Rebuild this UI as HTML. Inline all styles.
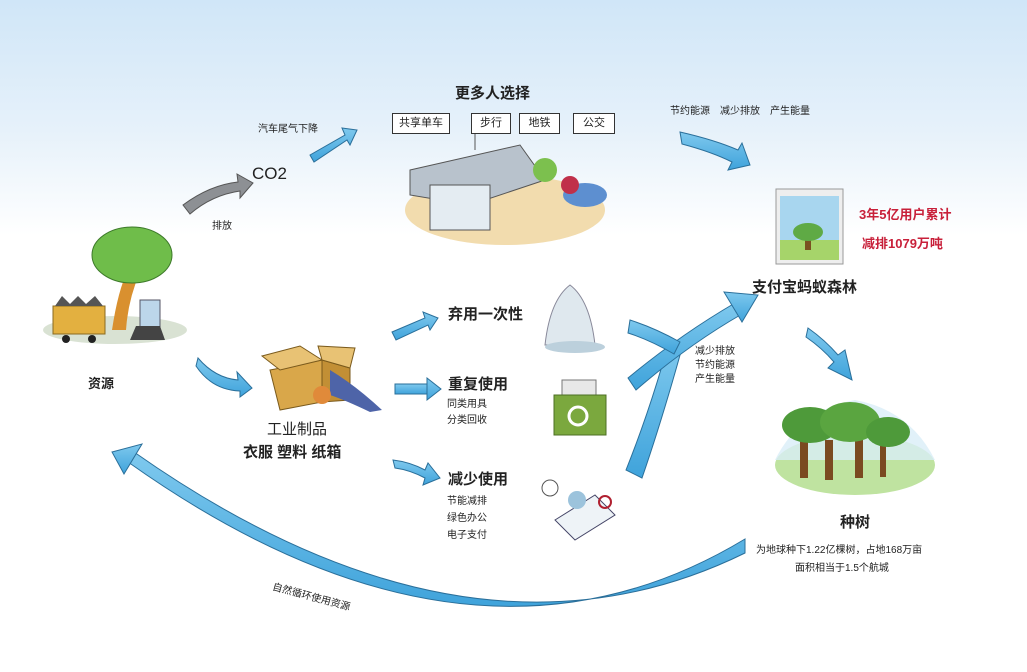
<!DOCTYPE html>
<html><head><meta charset="utf-8"><style>
html,body{margin:0;padding:0}
body{width:1027px;height:672px;position:relative;overflow:hidden;background:linear-gradient(#d0e6f8 0px,#e6f1fa 130px,#ffffff 235px);font-family:"Liberation Sans","Noto Sans CJK SC",sans-serif;color:#222}
.t{position:absolute;white-space:nowrap}
.b{font-weight:bold}
.box{position:absolute;top:113px;height:19px;border:1.5px solid #333;background:#fff;font-size:11px;text-align:center;line-height:19px}
svg{position:absolute;left:0;top:0}
</style></head><body>
<svg width="1027" height="672" viewBox="0 0 1027 672">
<defs><linearGradient id="bl" x1="0" y1="0" x2="0" y2="1"><stop offset="0" stop-color="#7fc9ee"/><stop offset="1" stop-color="#3fa3db"/></linearGradient></defs>
<g stroke="#2a6f9a" stroke-width="1" fill="url(#bl)">
<!-- bottom curved arrow -->
<path d="M745,539 Q470,705 128,462 L134,452 Q470,688 745,553 Z"/>
<polygon points="112,452 142,444 124,474"/>
<!-- Y arrow -->
<path d="M626,470 Q650,410 668,345 L682,348 Q662,420 642,478 Z"/>
<path d="M628,378 Q680,335 735,303 L742,314 Q688,345 636,390 Z"/>
<path d="M630,320 Q655,328 680,342 L674,354 Q650,340 628,333 Z"/>
<polygon points="724,292 758,295 742,322"/>
<!-- small arrows -->
<path d="M310,155 L345,135 L342,128 L357,130 L350,145 L347,140 L314,162 Z"/>
<path d="M680,132 Q715,140 738,150 L742,143 L750,165 L728,170 L732,162 Q712,152 682,144 Z"/>
<path d="M808,328 Q825,340 838,355 L845,350 L852,380 L828,368 L834,362 Q822,348 806,337 Z"/>
<path d="M198,358 Q215,378 238,380 L237,372 L252,388 L240,397 L240,391 Q212,390 196,366 Z"/>
<path d="M392,332 L425,318 L423,312 L438,318 L430,330 L428,325 L396,340 Z"/>
<rect x="395" y="384" width="32" height="10"/><polygon points="427,378 441,389 427,400"/>
<path d="M393,460 Q410,462 425,470 L428,463 L440,478 L423,485 L425,478 Q410,470 395,468 Z"/>
</g>
<!-- gray arrow -->
<path d="M183,205 Q210,185 238,182 L237,174 L253,183 L240,198 L240,191 Q212,195 190,214 Z" fill="#8d9094" stroke="#555"/>
<!-- left scene -->
<ellipse cx="115" cy="330" rx="72" ry="14" fill="#c9d5c0" opacity=".7"/>
<path d="M112,330 Q118,290 128,270 L140,272 Q128,300 126,330 Z" fill="#d9902f"/>
<ellipse cx="132" cy="255" rx="40" ry="28" fill="#6fbd4a" stroke="#3d7a2a"/>
<rect x="53" y="306" width="52" height="28" fill="#e3b040" stroke="#8a6a20"/>
<polygon points="55,306 62,296 70,304 78,296 86,304 95,296 103,306" fill="#555"/>
<circle cx="66" cy="339" r="4" fill="#222"/><circle cx="92" cy="339" r="4" fill="#222"/>
<rect x="140" y="300" width="20" height="28" fill="#bcd6ea" stroke="#556"/>
<polygon points="130,340 165,340 160,326 136,326" fill="#444"/>
<!-- station -->
<ellipse cx="505" cy="210" rx="100" ry="35" fill="#f2dcae"/>
<polygon points="410,170 520,145 545,180 470,205 410,195" fill="#b8c2cc" stroke="#555"/>
<rect x="430" y="185" width="60" height="45" fill="#e4ecf2" stroke="#555"/>
<line x1="475" y1="130" x2="475" y2="150" stroke="#555"/>
<circle cx="545" cy="170" r="12" fill="#7cc04e"/>
<ellipse cx="585" cy="195" rx="22" ry="12" fill="#5d8fd0"/>
<circle cx="570" cy="185" r="9" fill="#c0304a"/>
<!-- bag -->
<path d="M545,345 Q550,300 570,285 Q590,300 595,345 Z" fill="#dfe8ee" stroke="#889"/>
<ellipse cx="575" cy="347" rx="30" ry="6" fill="#bcd0dc"/>
<!-- recycle bin -->
<rect x="562" y="380" width="34" height="20" fill="#e8e8e8" stroke="#777"/>
<rect x="554" y="395" width="52" height="40" fill="#7ba83e" stroke="#4d6f24"/>
<circle cx="578" cy="416" r="9" fill="none" stroke="#fff" stroke-width="3"/>
<!-- reduce items -->
<circle cx="550" cy="488" r="8" fill="#fff" stroke="#555"/>
<polygon points="555,520 595,495 615,515 575,540" fill="#eef3f7" stroke="#446"/>
<circle cx="577" cy="500" r="9" fill="#9cc3dc"/>
<circle cx="605" cy="502" r="6" fill="none" stroke="#b02030" stroke-width="2"/>
<!-- box -->
<polygon points="270,370 322,360 322,402 280,410" fill="#d9a74a" stroke="#7a5a1c"/>
<polygon points="322,360 350,368 350,400 322,402" fill="#c28f35" stroke="#7a5a1c"/>
<polygon points="262,356 300,346 322,360 280,370" fill="#e8c274" stroke="#7a5a1c"/>
<polygon points="318,346 355,348 350,368 322,360" fill="#e8c274" stroke="#7a5a1c"/>
<path d="M330,370 Q355,385 382,410 L370,412 Q345,400 330,395 Z" fill="#4e64a8"/>
<circle cx="322" cy="395" r="9" fill="#e08a3a"/>
<!-- phone -->
<rect x="776" y="189" width="67" height="75" fill="#eee" stroke="#999"/>
<rect x="780" y="196" width="59" height="64" fill="#a8d6ef"/>
<rect x="780" y="240" width="59" height="20" fill="#a6d46a"/>
<rect x="805" y="235" width="6" height="15" fill="#7a5020"/>
<ellipse cx="808" cy="232" rx="15" ry="9" fill="#5faa45"/>
<!-- trees pic -->
<ellipse cx="855" cy="465" rx="80" ry="30" fill="#bfe3a0"/>
<path d="M775,460 Q800,410 855,400 Q910,410 935,460 Z" fill="#d9eef8" opacity=".8"/>
<rect x="800" y="440" width="8" height="38" fill="#7a4a20"/>
<rect x="825" y="440" width="8" height="40" fill="#7a4a20"/>
<rect x="855" y="440" width="8" height="38" fill="#7a4a20"/>
<rect x="880" y="445" width="6" height="32" fill="#7a4a20"/>
<ellipse cx="810" cy="425" rx="28" ry="18" fill="#4e9a3a"/>
<ellipse cx="850" cy="422" rx="30" ry="20" fill="#5aa540"/>
<ellipse cx="888" cy="432" rx="22" ry="15" fill="#4e9a3a"/>
</svg>
<div class="t b" style="left:455px;top:82px;font-size:15px">更多人选择</div>
<div class="box" style="left:392px;width:56px">共享单车</div>
<div class="box" style="left:471px;width:38px">步行</div>
<div class="box" style="left:519px;width:39px">地铁</div>
<div class="box" style="left:573px;width:40px">公交</div>
<div class="t" style="left:258px;top:120px;font-size:10px">汽车尾气下降</div>
<div class="t" style="left:252px;top:164px;font-size:17px">CO2</div>
<div class="t" style="left:212px;top:217px;font-size:10px">排放</div>
<div class="t" style="left:670px;top:102px;font-size:10px">节约能源　减少排放　产生能量</div>
<div class="t b" style="left:859px;top:204px;font-size:13px;color:#c8203a">3年5亿用户累计</div>
<div class="t b" style="left:862px;top:233px;font-size:13px;color:#c8203a">减排1079万吨</div>
<div class="t b" style="left:752px;top:276px;font-size:15px">支付宝蚂蚁森林</div>
<div class="t b" style="left:88px;top:373px;font-size:13px">资源</div>
<div class="t" style="left:267px;top:418px;font-size:15px">工业制品</div>
<div class="t b" style="left:243px;top:441px;font-size:15px">衣服 塑料 纸箱</div>
<div class="t b" style="left:448px;top:303px;font-size:15px">弃用一次性</div>
<div class="t b" style="left:448px;top:373px;font-size:15px">重复使用</div>
<div class="t" style="left:447px;top:397px;font-size:10px;line-height:16px">同类用具<br>分类回收</div>
<div class="t b" style="left:448px;top:468px;font-size:15px">减少使用</div>
<div class="t" style="left:447px;top:493px;font-size:10px;line-height:17px">节能减排<br>绿色办公<br>电子支付</div>
<div class="t" style="left:695px;top:345px;font-size:10px;line-height:14px">减少排放<br>节约能源<br>产生能量</div>
<div class="t b" style="left:840px;top:511px;font-size:15px">种树</div>
<div class="t" style="left:756px;top:541px;font-size:10px">为地球种下1.22亿棵树，占地168万亩</div>
<div class="t" style="left:795px;top:559px;font-size:10px">面积相当于1.5个航城</div>
<div class="t" style="left:275px;top:578px;font-size:10px;transform:rotate(15deg);transform-origin:left top">自然循环使用资源</div>
</body></html>
